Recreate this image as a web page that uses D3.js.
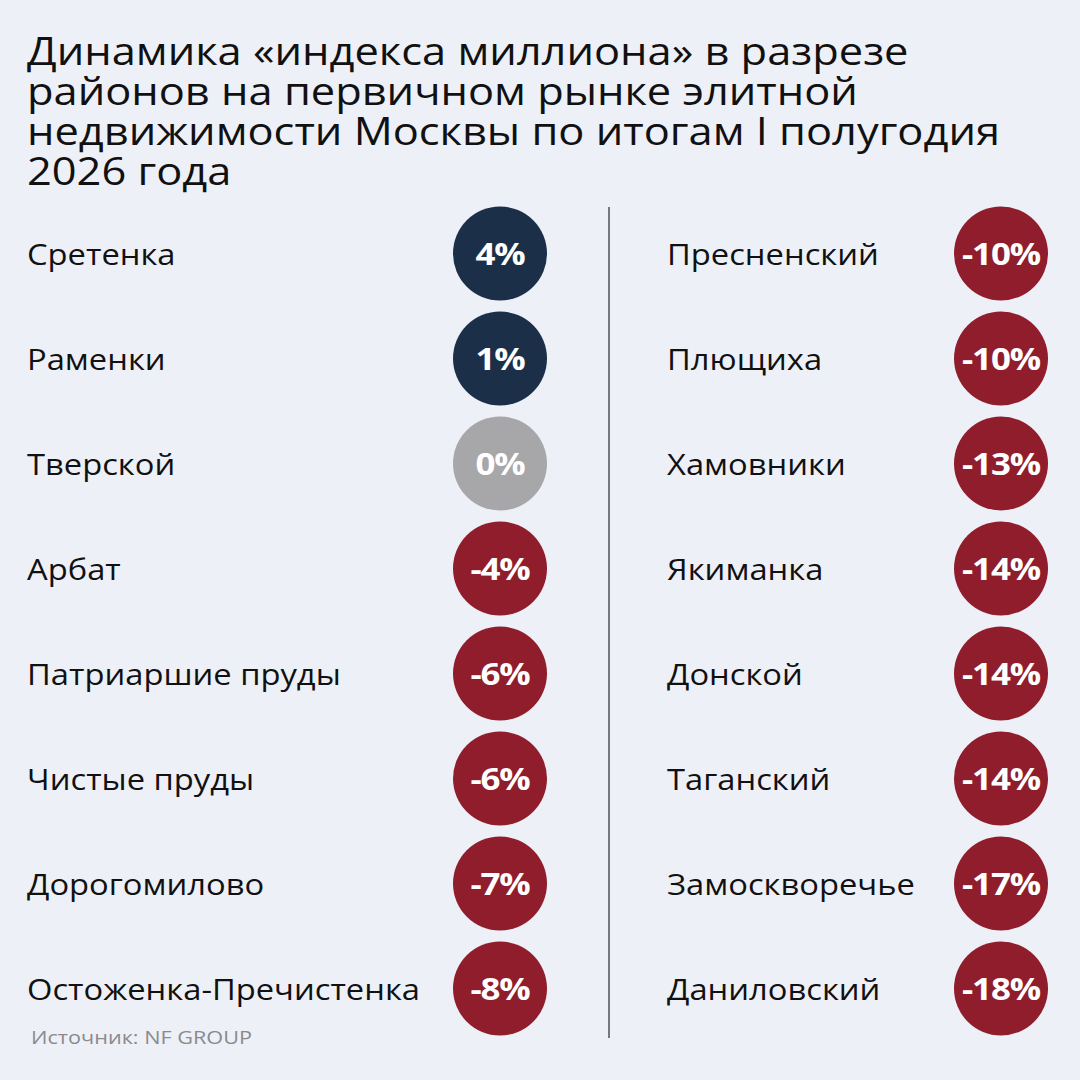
<!DOCTYPE html>
<html><head><meta charset="utf-8">
<script src="https://cdn.jsdelivr.net/npm/d3@7"></script>
<style>
html,body{margin:0;padding:0;background:#eef0f8;}
svg{display:block;}
</style></head>
<body>
<svg id="c" width="1080" height="1080"></svg>
<script>
const titleLines = ["Динамика «индекса миллиона» в разрезе","районов на первичном рынке элитной","недвижимости Москвы по итогам I полугодия","2026 года"];
const leftNames = ["Сретенка","Раменки","Тверской","Арбат","Патриаршие пруды","Чистые пруды","Дорогомилово","Остоженка-Пречистенка"];
const leftValues = [4,1,0,-4,-6,-6,-7,-8];
const rightNames = ["Пресненский","Плющиха","Хамовники","Якиманка","Донской","Таганский","Замоскворечье","Даниловский"];
const rightValues = [-10,-10,-13,-14,-14,-14,-17,-18];
const sourceText = "Источник: NF GROUP";

const FONT = "'Open Sans', 'Noto Sans', sans-serif";
const svg = d3.select("#c");
svg.append("rect").attr("width",1080).attr("height",1080).attr("fill","#eef0f8");

function stretch(sel, factor){
  sel.each(function(){
    const w = this.getComputedTextLength();
    d3.select(this).attr("textLength", w*factor).attr("lengthAdjust","spacingAndGlyphs");
  });
}

// title: one text element, lines as tspans
const title = svg.append("text")
  .attr("font-family",FONT).attr("font-weight",500).attr("font-size",38).attr("fill","#111");
const tl = title.selectAll("tspan").data(titleLines).join("tspan")
  .attr("x",27).attr("y",(d,i)=>65+i*40).text(d=>d);
stretch(tl, 973/tl.nodes()[2].getComputedTextLength());

const color = v => v>0 ? "#1b3048" : (v===0 ? "#a7a7a9" : "#8f1d2c");
const y = d3.scaleBand().domain(d3.range(8)).range([201,1041]);
const r = 47;

function column(names, values, xLabel, xCircle){
  const g = svg.append("g");
  const rows = g.selectAll("g").data(names.map((n,i)=>({n,v:values[i],i}))).join("g")
    .attr("transform",d=>`translate(0,${y(d.i)+y.bandwidth()/2})`);
  rows.append("text").attr("class","lbl").attr("x",xLabel).attr("y",11)
    .attr("font-family",FONT).attr("font-size",29).attr("fill","#111").text(d=>d.n);
  rows.append("circle").attr("cx",xCircle).attr("cy",0).attr("r",r).attr("fill",d=>color(d.v));
  rows.append("text").attr("class","pct").attr("x",xCircle).attr("y",11).attr("text-anchor","middle")
    .attr("font-family",FONT).attr("font-weight",700).attr("font-size",31)
    .attr("letter-spacing",-1).attr("fill","#fff").text(d=>d.v+"%");
  return rows;
}
column(leftNames,leftValues,27,500);
column(rightNames,rightValues,667,1001);

const labels = svg.selectAll("text.lbl");
const ref = labels.filter(d=>d.n==="Остоженка-Пречистенка").node();
stretch(labels, 393/ref.getComputedTextLength());
const pcts = svg.selectAll("text.pct");
const refP = pcts.filter(d=>d.v===-18).node();
stretch(pcts, 78/refP.getComputedTextLength());

svg.append("line").attr("x1",609).attr("x2",609).attr("y1",207).attr("y2",1038)
  .attr("stroke","#77777c").attr("stroke-width",2);

const src = svg.append("text").attr("x",31).attr("y",1044).attr("font-family",FONT)
  .attr("font-size",19).attr("fill","#8a8a8e").text(sourceText);
stretch(src, 221/src.node().getComputedTextLength());
</script>
</body></html>
